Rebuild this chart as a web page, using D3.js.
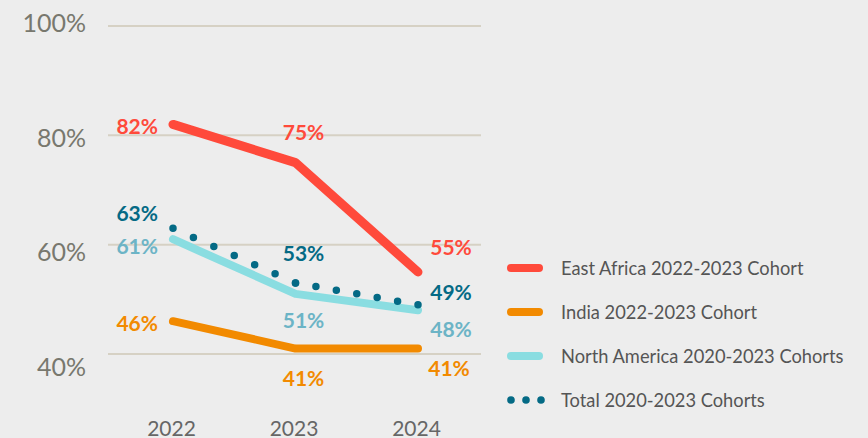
<!DOCTYPE html>
<html>
<head>
<meta charset="utf-8">
<script src="https://cdn.jsdelivr.net/npm/d3@7"></script>
<style>
  html, body { margin: 0; padding: 0; background: #ededed; }
  svg { display: block; }
  text { font-family: Lato, "Open Sans", sans-serif; }
</style>
</head>
<body>
<svg id="chart" width="868" height="438"></svg>
<script>
// Retention by cohort, 2022–2024
const years = ["2022", "2023", "2024"];
const eastAfrica = [82, 75, 55];
const india = [46, 41, 41];
const northAmerica = [61, 51, 48];
const total = [63, 53, 49];
const yTicks = [40, 60, 80, 100];
const legendLabels = [
  "East Africa 2022-2023 Cohort",
  "India 2022-2023 Cohort",
  "North America 2020-2023 Cohorts",
  "Total 2020-2023 Cohorts"
];

const svg = d3.select("#chart");
const W = 868, H = 438;
svg.append("rect").attr("width", W).attr("height", H).attr("fill", "#ededed");

const x = d3.scalePoint().domain(years).range([173, 418]);
const y = d3.scaleLinear().domain([40, 100]).range([354, 26]);
// tick text sits on its own slightly wider spacing
const yText = d3.scaleLinear().domain([40, 100]).range([366, 22]);

// gridlines
svg.append("g").selectAll("line").data(yTicks).join("line")
  .attr("x1", 108).attr("x2", 481)
  .attr("y1", d => y(d)).attr("y2", d => y(d))
  .attr("stroke", "#d6d1c4").attr("stroke-width", 2);

// y tick labels
svg.append("g").selectAll("text").data(yTicks).join("text")
  .attr("x", 86).attr("y", d => yText(d))
  .attr("text-anchor", "end").attr("dominant-baseline", "central")
  .attr("font-size", 25).attr("font-weight", 400).attr("fill", "#78786e")
  .text(d => d + "%");

// x tick labels
const xAxis = d3.axisBottom(x).tickSize(0).tickPadding(0);
const gx = svg.append("g").attr("transform", "translate(0,427)").call(xAxis);
gx.select(".domain").remove();
gx.selectAll("text").attr("font-size", 21).attr("font-weight", 400).attr("fill", "#666")
  .attr("font-family", "Lato, sans-serif").attr("y", 0).attr("dy", null)
  .attr("dominant-baseline", "central").attr("dx", -2);

const line = d3.line().x((d, i) => x(years[i])).y(d => y(d));

const series = [
  { vals: eastAfrica, color: "#ff4a3b", width: 9 },
  { vals: india, color: "#f28a00", width: 8 },
  { vals: northAmerica, color: "#8adde1", width: 8 }
];
series.forEach(s => {
  svg.append("path").datum(s.vals).attr("d", line)
    .attr("fill", "none").attr("stroke", s.color)
    .attr("stroke-width", s.width).attr("stroke-linecap", "round")
    .attr("stroke-linejoin", "round");
});

// dotted total line, one segment at a time so dots land on each year
const dotColor = "#046a85";
for (let i = 0; i < total.length - 1; i++) {
  const seg = svg.append("path")
    .datum([total[i], total[i + 1]])
    .attr("d", d3.line().x((d, k) => x(years[i + k])).y(d => y(d)))
    .attr("fill", "none").attr("stroke", dotColor)
    .attr("stroke-width", 7.5).attr("stroke-linecap", "round");
  const L = seg.node().getTotalLength();
  const n = Math.max(1, Math.round(L / 22));
  seg.attr("stroke-dasharray", `0 ${L / n}`);
}

// value labels
const labelFont = 21;
function label(val, yr, dx, dy, anchor, color) {
  svg.append("text")
    .attr("x", x(yr) + dx).attr("y", y(val) + dy)
    .attr("text-anchor", anchor).attr("dominant-baseline", "central")
    .attr("font-size", labelFont).attr("font-weight", 700)
    .attr("fill", color).text(val + "%");
}
const red = "#ff4a3b", orange = "#f28a00", teal = "#6cb4c6", dark = "#046a85";
label(eastAfrica[0], "2022", -15, 1, "end", red);
label(eastAfrica[1], "2023", 8, -31, "middle", red);
label(eastAfrica[2], "2024", 33, -26, "middle", red);
label(total[0], "2022", -15, -16, "end", dark);
label(total[1], "2023", 8, -30, "middle", dark);
label(total[2], "2024", 33, -13, "middle", dark);
label(northAmerica[0], "2022", -15, 6, "end", teal);
label(northAmerica[1], "2023", 8, 26, "middle", teal);
label(northAmerica[2], "2024", 33, 18, "middle", teal);
label(india[0], "2022", -15, 1, "end", orange);
label(india[1], "2023", 8, 29, "middle", orange);
label(india[2], "2024", 31, 19, "middle", orange);

// legend
const legendY = d3.scalePoint().domain(legendLabels).range([268, 400]);
const lg = svg.append("g");
const swatchColors = [red, orange, "#8adde1"];
legendLabels.forEach((lab, i) => {
  const cy = legendY(lab);
  if (i < 3) {
    lg.append("line").attr("x1", 511).attr("x2", 539).attr("y1", cy).attr("y2", cy)
      .attr("stroke", swatchColors[i]).attr("stroke-width", 8).attr("stroke-linecap", "round");
  } else {
    [511, 526, 541].forEach(cx => lg.append("circle").attr("cx", cx).attr("cy", cy)
      .attr("r", 3.8).attr("fill", dotColor));
  }
  lg.append("text").attr("x", 561).attr("y", cy).attr("dominant-baseline", "central")
    .attr("font-size", 18.3).attr("fill", "#555").text(lab);
});
</script>
</body>
</html>
